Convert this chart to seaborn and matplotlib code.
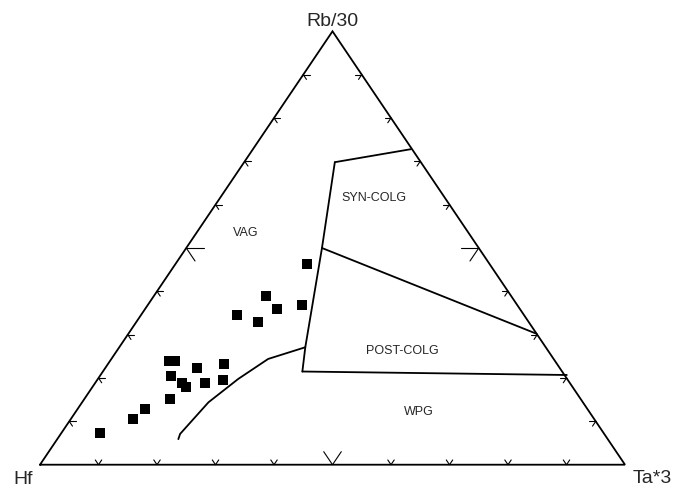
import numpy as np
import pandas as pd
import matplotlib
matplotlib.use("Agg")
import matplotlib.pyplot as plt
import seaborn as sns

# ---- data (ternary fractions: Rb/30, Ta*3, Hf = 1 - Rb - Ta) ----
sample_rb = [0.462, 0.389, 0.359, 0.369, 0.346, 0.330, 0.239, 0.239, 0.222, 0.232,
             0.205, 0.189, 0.180, 0.189, 0.196, 0.152, 0.074, 0.105, 0.128]
sample_ta = [0.225, 0.191, 0.225, 0.264, 0.163, 0.208, 0.101, 0.111, 0.157, 0.199,
             0.122, 0.148, 0.160, 0.188, 0.215, 0.147, 0.065, 0.107, 0.115]

# field boundaries (Rb, Ta)
syn_top_rb = [0.728, 0.698]
syn_top_ta = [0.270, 0.155]
divide_rb = [0.698, 0.500, 0.271, 0.215]
divide_ta = [0.155, 0.232, 0.318, 0.341]
syn_post_rb = [0.500, 0.302]
syn_post_ta = [0.232, 0.698]
post_wpg_rb = [0.215, 0.207]
post_wpg_ta = [0.341, 0.797]
vag_wpg_rb = [0.271, 0.244, 0.198, 0.144, 0.071, 0.059]
vag_wpg_ta = [0.318, 0.268, 0.240, 0.216, 0.204, 0.207]

apex_labels = ["Hf", "Ta*3", "Rb/30"]
field_labels = ["VAG", "SYN-COLG", "POST-COLG", "WPG"]
field_rb = [0.536, 0.618, 0.264, 0.124]
field_ta = [0.083, 0.261, 0.487, 0.585]


def cart(rb, ta):
    rb = np.asarray(rb, float)
    ta = np.asarray(ta, float)
    return ta + rb / 2.0, rb


sns.set_style("white")
plt.rcParams['font.family'] = ['Liberation Sans', 'DejaVu Sans']

fig = plt.figure(figsize=(6.74, 4.89), dpi=100)
ax = fig.add_axes([0, 0, 1, 1])
ax.set_xlim(-40 / 585, (674 - 40) / 585)
ax.set_ylim(-(489 - 465.7) / 433.4, 465.7 / 433.4)
ax.axis("off")

lw = 1.3
# triangle
tx, ty = cart([0, 0, 1, 0], [0, 1, 0, 0])
ax.plot(tx, ty, color="black", lw=lw, solid_joinstyle="miter")

# ticks
for i in range(1, 10):
    f = i / 10
    L = 0.03 if i == 5 else 0.011
    # base (Rb=0, Ta=f)
    segs = [((0, f), (L, f)), ((0, f), (L, f - L))]
    # left edge (Ta=0, Rb=f)
    segs += [((f, 0), (f, L)), ((f, 0), (f - L, L))]
    # right edge (Hf=0, Rb=f, Ta=1-f)
    segs += [((f, 1 - f), (f, 1 - f - L)), ((f, 1 - f), (f - L, 1 - f))]
    for (r0, t0), (r1, t1) in segs:
        xs, ys = cart([r0, r1], [t0, t1])
        ax.plot(xs, ys, color="black", lw=0.8)

# boundaries
for rb, ta in [(syn_top_rb, syn_top_ta), (divide_rb, divide_ta),
               (syn_post_rb, syn_post_ta), (post_wpg_rb, post_wpg_ta),
               (vag_wpg_rb, vag_wpg_ta)]:
    xs, ys = cart(rb, ta)
    ax.plot(xs, ys, color="black", lw=lw)

# samples
sx, sy = cart(sample_rb, sample_ta)
df = pd.DataFrame({"x": sx, "y": sy})
sns.scatterplot(data=df, x="x", y="y", ax=ax, marker="s", s=52,
                color="black", edgecolor="black", linewidth=0, zorder=5)
ax.set_xlabel("")
ax.set_ylabel("")

# field labels
fx, fy = cart(field_rb, field_ta)
for lab, x, y in zip(field_labels, fx, fy):
    ax.text(x, y, lab, fontsize=9, ha="center", va="center")


def px(p, q):
    return (p - 40) / 585, (465.7 - q) / 433.4


for lab, (p, q) in zip(apex_labels, [(23, 480), (652, 479), (332, 21)]):
    x, y = px(p, q)
    ax.text(x, y, lab, fontsize=14, ha="center", va="center")

fig.savefig("out.png", dpi=100)
